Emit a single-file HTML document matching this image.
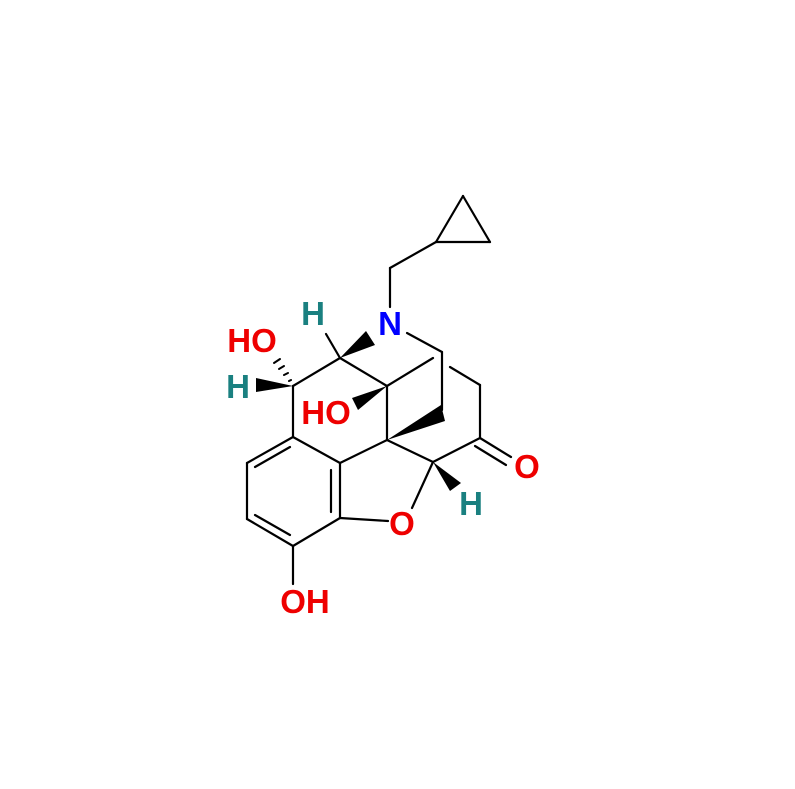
<!DOCTYPE html>
<html><head><style>body{margin:0;background:#fff}svg{display:block}</style></head><body>
<svg width="795" height="789" viewBox="0 0 795 789" xmlns="http://www.w3.org/2000/svg">
<g stroke="#000" stroke-width="2.2" fill="none" stroke-linecap="round">
<line x1="463" y1="196" x2="490" y2="242"/><line x1="490" y1="242" x2="436" y2="242"/><line x1="436" y1="242" x2="463" y2="196"/>
<line x1="436" y1="242" x2="390" y2="268"/><line x1="390" y1="268" x2="390" y2="307"/>
<line x1="407" y1="333" x2="442" y2="352"/>
<line x1="442" y1="352" x2="442" y2="410"/>
<line x1="387" y1="386" x2="433" y2="358"/>
<line x1="450" y1="367" x2="480" y2="385"/><line x1="480" y1="385" x2="480" y2="438"/>
<line x1="480" y1="438" x2="511" y2="457"/><line x1="475" y1="446" x2="506" y2="465"/>
<line x1="480" y1="438" x2="433" y2="462"/>
<line x1="387" y1="386" x2="387" y2="440"/>
<line x1="387" y1="440" x2="433" y2="462"/>
<line x1="433" y1="462" x2="412" y2="508"/>
<line x1="388" y1="521" x2="340" y2="518"/>
<line x1="387" y1="440" x2="340" y2="463"/>
<line x1="340" y1="463" x2="293" y2="437"/><line x1="293" y1="437" x2="247" y2="463"/><line x1="247" y1="463" x2="247" y2="519"/>
<line x1="247" y1="519" x2="293" y2="546"/><line x1="293" y1="546" x2="340" y2="518"/><line x1="340" y1="518" x2="340" y2="463"/>
<line x1="290" y1="447" x2="255" y2="467"/><line x1="255" y1="515" x2="290" y2="535"/><line x1="331" y1="470" x2="331" y2="512"/>
<line x1="293" y1="546" x2="293" y2="584"/>
<line x1="293" y1="437" x2="293" y2="386"/>
<line x1="293" y1="386" x2="340" y2="358"/>
<line x1="340" y1="358" x2="387" y2="386"/>
<line x1="340" y1="358" x2="326" y2="334"/>
<g stroke-width="2">
<line x1="289" y1="381" x2="291" y2="380"/><line x1="284" y1="375" x2="288" y2="373"/><line x1="279" y1="369" x2="284" y2="366"/><line x1="274" y1="363" x2="280" y2="359"/>
</g>
</g>
<g fill="#000">
<polygon points="387,440 441,405 445,421"/>
<polygon points="340,358 366,331 375,345"/>
<polygon points="293,386 256,378 256,392"/>
<polygon points="387,386 352,398 358,410"/>
<polygon points="433,462 461,483 450,491"/>
</g>
<g font-family="Liberation Sans, sans-serif" font-weight="bold" font-size="33" text-anchor="middle">
<text x="252" y="352" fill="#e00">HO</text>
<text x="238" y="398" fill="#1a8080">H</text>
<text x="313" y="325" fill="#1a8080">H</text>
<text x="390" y="335" fill="#00f">N</text>
<text x="326" y="424" fill="#e00">HO</text>
<text x="527" y="478" fill="#e00">O</text>
<text x="471" y="515" fill="#1a8080">H</text>
<text x="402" y="535" fill="#e00">O</text>
<text x="305" y="613" fill="#e00">OH</text>
</g>
</svg>
</body></html>
